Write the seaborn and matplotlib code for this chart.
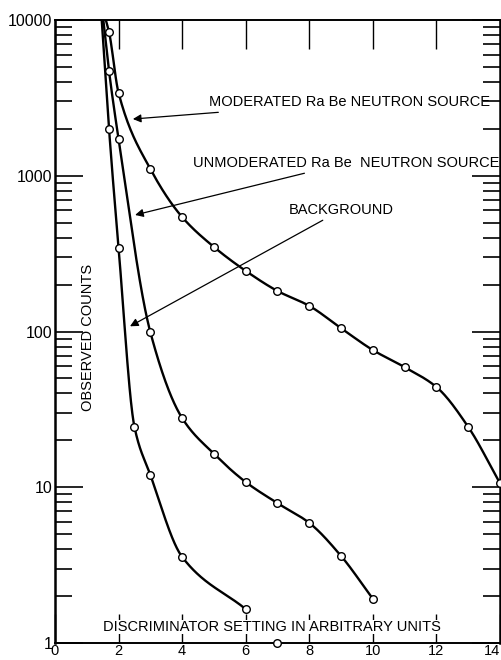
import numpy as np
import matplotlib
matplotlib.use("Agg")
import matplotlib.pyplot as plt
import seaborn as sns
from matplotlib.ticker import FixedLocator, FixedFormatter, LogLocator, NullFormatter

# ---------------- data ----------------
mod_x = [1.7, 2, 3, 4, 5, 6, 7, 8, 9, 10, 11, 12, 13, 14]
mod_y = [8380, 3400, 1105, 543, 349, 245, 182, 146, 105, 76, 59, 44, 24.4, 10.6]

unmod_x = [1.7, 2, 3, 4, 5, 6, 7, 8, 9, 10]
unmod_y = [4700, 1722, 99, 27.8, 16.4, 10.8, 7.9, 5.9, 3.62, 1.92]

bg_x = [1.7, 2, 2.5, 3, 4, 6]
bg_y = [1995, 344, 24.4, 12.0, 3.57, 1.65]

# where each drawn curve leaves the top of the frame
curve_start_x = {"mod": 1.60, "unmod": 1.52, "bg": 1.47}
curve_start_y = 10000

stray_x = [7]
stray_y = [1]

x_ticks = [0, 2, 4, 6, 8, 10, 12, 14]
x_ticklabels = ["0", "2", "4", "6", "8", "10", "12", "14"]
y_ticks = [1, 10, 100, 1000, 10000]
y_ticklabels = ["1", "10", "100", "1000", "10000"]

label_mod = "MODERATED Ra Be NEUTRON SOURCE"
label_unmod = "UNMODERATED Ra Be  NEUTRON SOURCE"
label_bg = "BACKGROUND"
xlabel = "DISCRIMINATOR SETTING IN ARBITRARY UNITS"
ylabel = "OBSERVED COUNTS"


def smooth(x, y, n=400):
    """Monotone cubic (Fritsch-Carlson) through the points, in log10 space."""
    x = np.asarray(x, float)
    ly = np.log10(np.asarray(y, float))
    h = np.diff(x)
    d = np.diff(ly) / h
    m = np.zeros_like(x)
    m[0], m[-1] = d[0], d[-1]
    for k in range(1, len(x) - 1):
        if d[k - 1] * d[k] <= 0:
            m[k] = 0
        else:
            w1 = 2 * h[k] + h[k - 1]
            w2 = h[k] + 2 * h[k - 1]
            m[k] = (w1 + w2) / (w1 / d[k - 1] + w2 / d[k])
    xs = np.linspace(x[0], x[-1], n)
    i = np.clip(np.searchsorted(x, xs) - 1, 0, len(x) - 2)
    t = (xs - x[i]) / h[i]
    h00 = 2 * t**3 - 3 * t**2 + 1
    h10 = t**3 - 2 * t**2 + t
    h01 = -2 * t**3 + 3 * t**2
    h11 = t**3 - t**2
    ys = h00 * ly[i] + h10 * h[i] * m[i] + h01 * ly[i + 1] + h11 * h[i] * m[i + 1]
    return xs, 10 ** ys


sns.set_theme(style="ticks")
plt.rcParams["font.family"] = ["Liberation Sans", "DejaVu Sans"]

fig = plt.figure(figsize=(5.02, 6.60), dpi=100)
ax = fig.add_axes([55 / 502, 17 / 660, 445 / 502, 623 / 660])
ax.set_yscale("log")
ax.set_xlim(0, 14)
ax.set_ylim(1, 10000)

series = [
    ("mod", mod_x, mod_y),
    ("unmod", unmod_x, unmod_y),
    ("bg", bg_x, bg_y),
]
for key, xs_, ys_ in series:
    cx, cy = smooth([curve_start_x[key]] + xs_, [curve_start_y] + ys_)
    sns.lineplot(x=cx, y=cy, ax=ax, color="black", linewidth=1.7,
                 sort=False, estimator=None)
    sns.scatterplot(x=xs_, y=ys_, ax=ax, s=30, facecolor="white",
                    edgecolor="black", linewidth=1.0, zorder=5, clip_on=False)

sns.scatterplot(x=stray_x, y=stray_y, ax=ax, s=30, facecolor="white",
                edgecolor="black", linewidth=1.0, zorder=5, clip_on=False)

# ---------------- axes styling ----------------
for side in ["left", "right"]:
    ax.spines[side].set_linewidth(1.8)
for side in ["top", "bottom"]:
    ax.spines[side].set_linewidth(1.4)
for s in ax.spines.values():
    s.set_color("black")

ax.xaxis.set_major_locator(FixedLocator(x_ticks))
ax.xaxis.set_major_formatter(FixedFormatter(x_ticklabels))
ax.yaxis.set_major_locator(FixedLocator(y_ticks))
ax.yaxis.set_major_formatter(FixedFormatter(y_ticklabels))
ax.yaxis.set_minor_locator(LogLocator(base=10, subs=np.arange(2, 10)))
ax.yaxis.set_minor_formatter(NullFormatter())

ax.tick_params(axis="x", which="major", direction="in", top=True, bottom=True,
               length=21, width=1.0, labelsize=10.5, pad=1, color="black")
ax.tick_params(axis="y", which="major", direction="in", left=True, right=True,
               length=20, width=1.2, labelsize=11.5, pad=2, color="black")
ax.tick_params(axis="y", which="minor", direction="in", left=True, right=True,
               length=12, width=1.2, color="black")
for lab in ax.get_xticklabels() + ax.get_yticklabels():
    lab.set_color("black")
# keep the last x label inside the picture
ax.get_xticklabels()[-1].set_horizontalalignment("right")

ax.set_xlabel("")
ax.set_ylabel("")

# axis titles drawn inside the frame
ax.text(0.488, 0.0257, xlabel, transform=ax.transAxes, ha="center", va="center",
        fontsize=10.5, color="black", zorder=6,
        bbox=dict(facecolor="white", edgecolor="none", pad=0.3))
ax.text(0.074, 0.49, ylabel, transform=ax.transAxes, ha="center", va="center",
        rotation=90, fontsize=10.5, color="black")

arrow = dict(arrowstyle="-|>", color="black", lw=0.9,
             mutation_scale=12, shrinkA=0, shrinkB=0)
ax.annotate(label_mod, xy=(2.45, 2313), xytext=(4.84, 2973),
            ha="left", va="center", fontsize=10.5, color="black",
            arrowprops=arrow)
ax.annotate(label_unmod, xy=(2.52, 560), xytext=(4.34, 1208),
            ha="left", va="center", fontsize=10.5, color="black",
            arrowprops=arrow)
ax.annotate(label_bg, xy=(2.36, 108), xytext=(7.36, 603),
            ha="left", va="center", fontsize=10.5, color="black",
            arrowprops=arrow)

fig.savefig("out.png", dpi=100, facecolor="white")
